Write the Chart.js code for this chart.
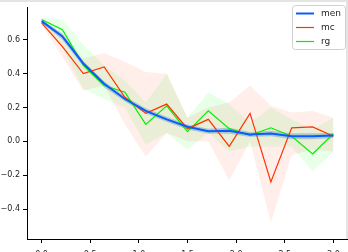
<!DOCTYPE html>
<html>
<head>
<meta charset="utf-8">
<script src="https://cdn.jsdelivr.net/npm/chart.js@4"></script>
<style>
  html, body { margin: 0; padding: 0; background: #fff; overflow: hidden; }
</style>
</head>
<body>
<canvas id="chart" width="348" height="252"></canvas>
<script>
const xs = [0, 0.214, 0.429, 0.643, 0.857, 1.071, 1.286, 1.5, 1.714, 1.929, 2.143, 2.357, 2.571, 2.786, 3.0];

const men   = [0.71, 0.62, 0.46, 0.34, 0.25, 0.18, 0.13, 0.086, 0.06, 0.063, 0.04, 0.046, 0.03, 0.03, 0.034];
const menLo = [0.70, 0.60, 0.44, 0.32, 0.235, 0.165, 0.115, 0.07, 0.045, 0.045, 0.025, 0.03, 0.012, 0.012, 0.018];
const menHi = [0.72, 0.635, 0.475, 0.355, 0.265, 0.195, 0.145, 0.10, 0.075, 0.08, 0.055, 0.062, 0.048, 0.048, 0.05];

const mc   = [0.70, 0.56, 0.40, 0.44, 0.26, 0.165, 0.22, 0.075, 0.13, -0.03, 0.165, -0.24, 0.08, 0.085, 0.03];
const mcLo = [0.69, 0.50, 0.30, 0.33, 0.10, -0.09, 0.05, 0.0, 0.0, -0.23, 0.0, -0.48, -0.08, -0.05, -0.06];
const mcHi = [0.71, 0.64, 0.49, 0.52, 0.47, 0.41, 0.40, 0.14, 0.20, 0.23, 0.33, 0.21, 0.17, 0.18, 0.14];

const rg   = [0.72, 0.66, 0.45, 0.33, 0.29, 0.10, 0.21, 0.057, 0.18, 0.075, 0.035, 0.08, 0.03, -0.075, 0.045];
const rgLo = [0.71, 0.55, 0.31, 0.25, 0.20, -0.02, 0.05, -0.05, 0.05, -0.06, -0.03, -0.03, -0.03, -0.18, -0.06];
const rgHi = [0.73, 0.72, 0.57, 0.45, 0.36, 0.23, 0.40, 0.14, 0.29, 0.22, 0.11, 0.20, 0.13, 0.07, 0.14];

const xTicks = [0, 0.5, 1.0, 1.5, 2.0, 2.5, 3.0];
const yTicks = [-0.4, -0.2, 0, 0.2, 0.4, 0.6];

const legendItems = [
    { label: 'men', color: '#0a5cff', width: 2 },
    { label: 'mc', color: '#ff3300', width: 1.2 },
    { label: 'rg', color: '#00ee00', width: 1.2 }
];

const pts = ys => xs.map((x, i) => ({ x: x, y: ys[i] }));

function line(label, ys, color, width) {
    return { label: label, data: pts(ys), borderColor: color, borderWidth: width,
             pointRadius: 0, fill: false, tension: 0, order: 0 };
}
function band(ys, target, color) {
    return { label: '', data: pts(ys), borderWidth: 0, borderColor: 'rgba(0,0,0,0)',
             backgroundColor: color, pointRadius: 0, fill: target, tension: 0, order: 1 };
}

const fmt = v => (v < 0 ? '\u2212' : '') + Math.abs(v).toFixed(1);

const legendBox = {
    id: 'legendBox',
    afterDraw(chart) {
        const ctx = chart.ctx;
        ctx.save();
        // faint frame edges seen in the picture
        ctx.fillStyle = '#e4e4e4';
        ctx.fillRect(0, 0, 348, 2);
        ctx.fillRect(346, 0, 2, 239);

        ctx.beginPath();
        ctx.roundRect(292.5, 5.5, 53, 44, 3);
        ctx.fillStyle = 'rgba(255,255,255,0.85)';
        ctx.fill();
        ctx.strokeStyle = '#d0d0d0';
        ctx.lineWidth = 1;
        ctx.stroke();

        ctx.font = '9px "DejaVu Sans"';
        ctx.textBaseline = 'middle';
        legendItems.forEach((it, i) => {
            const y = 13.5 + i * 14;
            ctx.beginPath();
            ctx.moveTo(296, y);
            ctx.lineTo(314, y);
            ctx.strokeStyle = it.color;
            ctx.lineWidth = it.width;
            ctx.stroke();
            ctx.fillStyle = '#262626';
            ctx.fillText(it.label, 321, y);
        });
        ctx.restore();
    }
};

new Chart(document.getElementById('chart'), {
    type: 'line',
    data: {
        datasets: [
            line('men', men, '#0a5cff', 2),
            line('mc', mc, '#ff3300', 1.2),
            line('rg', rg, '#00ee00', 1.2),
            band(menHi, 4, 'rgba(31,119,180,0.3)'),
            band(menLo, false, 'rgba(0,0,0,0)'),
            band(mcHi, 6, 'rgba(255,90,50,0.1)'),
            band(mcLo, false, 'rgba(0,0,0,0)'),
            band(rgHi, 8, 'rgba(0,255,0,0.09)'),
            band(rgLo, false, 'rgba(0,0,0,0)')
        ]
    },
    options: {
        responsive: false,
        animation: false,
        layout: { padding: 0 },
        plugins: {
            legend: { display: false },
            tooltip: { enabled: false }
        },
        scales: {
            x: {
                type: 'linear',
                min: -0.15,
                max: 3.15,
                border: { color: '#000', width: 1 },
                grid: { drawOnChartArea: false, color: '#000', tickLength: 4 },
                ticks: { padding: 7, color: '#262626', font: { family: 'DejaVu Sans', size: 8 },
                         maxRotation: 0, callback: fmt },
                afterBuildTicks: s => { s.ticks = xTicks.map(v => ({ value: v })); },
                afterFit: s => { s.height = 13; }
            },
            y: {
                min: -0.577,
                max: 0.789,
                border: { color: '#000', width: 1 },
                grid: { drawOnChartArea: false, color: '#000', tickLength: 4 },
                ticks: { padding: 3, color: '#262626', font: { family: 'DejaVu Sans', size: 8 },
                         callback: fmt },
                afterBuildTicks: s => { s.ticks = yTicks.map(v => ({ value: v })); },
                afterFit: s => { s.width = 27; }
            }
        }
    },
    plugins: [legendBox]
});
</script>
</body>
</html>
